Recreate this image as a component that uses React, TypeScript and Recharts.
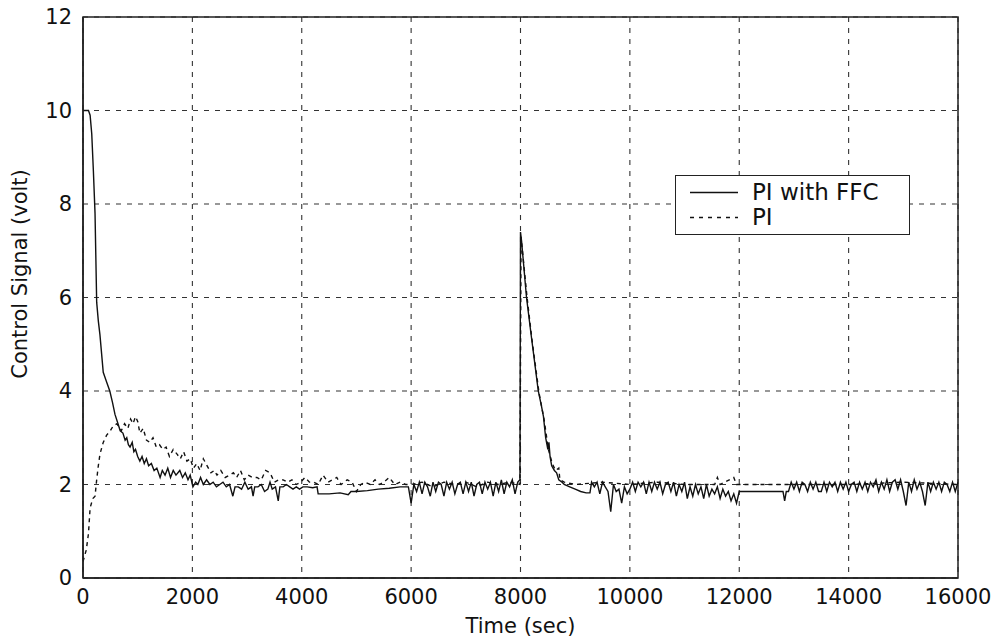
import { LineChart, Line, XAxis, YAxis, CartesianGrid, Legend, ReferenceArea } from "recharts"

// [time (sec), control signal (volt)]
const ffcStartup: [number, number][] = [
  [0, 10], [100, 10], [130, 9.9], [160, 9.5], [190, 8.7], [220, 7.8], [250, 5.9], [280, 5.5],
  [310, 5.2], [340, 4.8], [370, 4.4], [430, 4.2], [490, 4.0], [540, 3.75], [585, 3.5], [640, 3.3],
  [680, 3.15], [730, 3.1], [770, 2.95], [800, 3.0], [830, 2.85], [860, 2.8], [900, 2.9], [930, 2.7],
  [960, 2.75], [1000, 2.6], [1040, 2.5], [1080, 2.6], [1120, 2.45], [1160, 2.55], [1200, 2.4],
  [1250, 2.45], [1300, 2.3], [1350, 2.35], [1410, 2.15], [1450, 2.3], [1500, 2.2], [1550, 2.35],
  [1600, 2.15], [1650, 2.3], [1700, 2.2], [1770, 2.3], [1820, 2.15], [1870, 2.25], [1920, 2.1],
  [1960, 2.2], [2010, 1.95], [2060, 2.05], [2100, 2.0], [2150, 2.15], [2200, 2.0], [2260, 2.1],
  [2320, 2.0], [2380, 2.05], [2440, 1.95], [2500, 2.0], [2560, 2.05], [2620, 1.95], [2680, 2.0],
  [2740, 1.75], [2780, 1.95], [2840, 1.95], [2900, 1.9], [2960, 2.05], [3020, 1.9], [3080, 1.95],
  [3110, 1.75], [3140, 1.95], [3200, 1.95], [3260, 2.0], [3320, 1.85], [3380, 1.9], [3420, 2.05],
  [3460, 1.9], [3520, 1.95], [3570, 1.65], [3600, 1.95], [3660, 1.95], [3720, 2.0], [3780, 1.95],
  [3840, 1.9], [3900, 1.95], [3960, 1.9], [4020, 1.95], [4100, 1.95], [4200, 1.93], [4280, 1.95],
  [4300, 1.8], [4500, 1.8], [4700, 1.82], [4850, 1.78], [4900, 1.85], [5000, 1.85], [5200, 1.87],
  [5400, 1.9], [5600, 1.92], [5800, 1.95], [5950, 1.95],
]

const ffcSteady: [number, number][] = [
  [6000, 1.6], [6050, 2.0], [6100, 1.85], [6150, 2.05], [6200, 1.8], [6250, 2.05], [6300, 1.95],
  [6350, 1.75], [6400, 2.05], [6450, 1.85], [6500, 2.05], [6550, 2.0], [6600, 1.75], [6650, 2.05],
  [6700, 1.9], [6750, 2.05], [6800, 1.8], [6850, 2.0], [6900, 2.05], [6950, 1.8], [7000, 2.05],
  [7050, 1.85], [7100, 2.05], [7150, 1.75], [7200, 2.0], [7250, 2.05], [7300, 1.8], [7350, 2.05],
  [7400, 1.9], [7450, 2.05], [7500, 1.75], [7550, 2.05], [7600, 1.85], [7650, 2.1], [7700, 1.8],
  [7750, 2.05], [7800, 1.95], [7850, 2.1], [7900, 1.8], [7950, 2.05], [7990, 2.1],
]

const ffcDisturbance: [number, number][] = [
  [8000, 7.4], [8020, 7.2], [8110, 6.0], [8200, 5.15], [8260, 4.6], [8325, 4.0], [8380, 3.7],
  [8420, 3.45], [8460, 3.0], [8500, 2.75], [8520, 2.9], [8540, 2.6], [8570, 2.4], [8620, 2.3],
  [8660, 2.25], [8700, 2.1], [8760, 2.05], [8800, 2.0], [8900, 1.95], [9000, 1.9], [9100, 1.85],
  [9200, 1.82], [9270, 1.82], [9300, 2.05], [9350, 1.95], [9400, 2.05], [9450, 1.8], [9500, 2.05],
  [9550, 1.95], [9600, 1.85], [9650, 1.42], [9700, 2.0], [9750, 1.85], [9800, 1.9], [9850, 1.6],
  [9900, 1.95], [9950, 1.8], [10000, 1.9], [10050, 2.05], [10100, 1.85], [10150, 2.05],
  [10200, 1.95], [10250, 2.05], [10300, 1.8], [10350, 2.05], [10400, 1.85], [10450, 2.05],
  [10500, 1.9], [10550, 2.05], [10600, 1.8], [10650, 2.0], [10700, 2.05], [10750, 1.85],
  [10800, 2.05], [10850, 1.75], [10900, 2.0], [10950, 1.85], [11000, 2.05], [11050, 1.7],
  [11100, 1.95], [11150, 1.75], [11200, 2.0], [11250, 1.8], [11300, 1.95], [11350, 1.7],
  [11400, 2.0], [11450, 1.75], [11500, 1.9], [11550, 1.8], [11600, 1.95], [11650, 1.7],
  [11700, 1.9], [11750, 1.75], [11800, 1.85], [11850, 1.65], [11900, 1.8], [11950, 1.6],
]

const ffcLate: [number, number][] = [
  [12000, 1.85], [12800, 1.85], [12830, 1.65], [12860, 1.85], [12900, 1.85], [12950, 2.05],
  [13000, 1.9], [13050, 2.05], [13100, 1.85], [13150, 2.05], [13200, 2.0], [13250, 1.85],
  [13300, 2.05], [13350, 1.9], [13400, 2.05], [13450, 1.85], [13500, 1.85], [13550, 2.05],
  [13600, 1.85], [13650, 2.05], [13700, 1.95], [13750, 2.05], [13800, 1.85], [13850, 2.05],
  [13900, 1.9], [13950, 2.05], [14000, 1.85], [14050, 2.0], [14100, 2.05], [14150, 1.85],
  [14200, 2.05], [14250, 1.9], [14300, 2.05], [14350, 1.85], [14400, 2.05], [14450, 1.95],
  [14500, 2.1], [14550, 1.85], [14600, 2.05], [14650, 1.9], [14700, 2.1], [14750, 1.85],
  [14800, 2.05], [14850, 2.1], [14900, 1.9], [14950, 2.1], [15000, 1.85], [15050, 1.55],
  [15100, 2.05], [15150, 1.85], [15200, 2.1], [15250, 1.9], [15300, 2.05], [15350, 1.85],
  [15400, 1.55], [15450, 2.05], [15500, 1.85], [15550, 2.05], [15600, 1.9], [15650, 2.05],
  [15700, 1.85], [15750, 2.05], [15800, 2.0], [15850, 1.85], [15900, 2.05], [15950, 1.85],
  [16000, 2.05],
]

const piStartup: [number, number][] = [
  [0, 0.35], [60, 0.6], [100, 0.95], [130, 1.5], [180, 1.7], [220, 1.75], [250, 2.1], [280, 2.4],
  [310, 2.65], [370, 2.9], [430, 3.05], [500, 3.15], [550, 3.25], [620, 3.3], [700, 3.15],
  [760, 3.3], [820, 3.2], [870, 3.4], [915, 3.3], [960, 3.45], [1000, 3.35], [1040, 3.1],
  [1100, 3.2], [1160, 2.95], [1220, 2.9], [1280, 3.0], [1340, 2.8], [1400, 2.85], [1460, 2.75],
  [1520, 2.8], [1580, 2.6], [1650, 2.75], [1720, 2.65], [1780, 2.55], [1840, 2.7], [1900, 2.5],
  [1960, 2.55], [2020, 2.35], [2080, 2.45], [2140, 2.3], [2200, 2.55], [2270, 2.4], [2340, 2.25],
  [2400, 2.3], [2450, 2.2], [2520, 2.3], [2600, 2.15], [2680, 2.2], [2750, 2.25], [2810, 2.15],
  [2880, 2.3], [2950, 2.1], [3020, 2.2], [3100, 2.15], [3180, 2.15], [3260, 2.1], [3340, 2.3],
  [3420, 2.25], [3500, 2.05], [3580, 2.1], [3660, 2.1], [3740, 2.05], [3820, 2.1], [3900, 2.0],
  [3980, 2.05], [4060, 2.15], [4140, 2.05], [4220, 2.05], [4300, 2.0], [4390, 2.2], [4480, 2.05],
  [4560, 2.1], [4640, 2.15], [4720, 2.0], [4830, 2.1], [4920, 2.05], [5000, 1.85], [5080, 2.0],
  [5160, 2.05], [5250, 2.0], [5340, 2.1], [5420, 2.0], [5500, 2.05], [5600, 2.15], [5700, 2.0],
  [5800, 2.05], [5900, 2.0],
]

const piLate: [number, number][] = [
  [6000, 2.0], [6200, 2.05], [6400, 1.95], [6600, 2.05], [6800, 2.0], [7000, 2.05], [7200, 1.95],
  [7400, 2.05], [7600, 2.0], [7800, 2.05], [7990, 2.0], [8010, 7.3], [8120, 6.0], [8210, 5.1],
  [8340, 3.95], [8430, 3.4], [8510, 2.75], [8580, 2.45], [8640, 2.3], [8700, 2.35], [8720, 2.1],
  [8800, 2.05], [9000, 2.0], [9500, 2.05], [10000, 2.0], [10500, 2.05], [11000, 2.0],
  [11550, 2.0], [11600, 2.15], [11650, 2.0], [11900, 2.15], [11950, 2.0], [12300, 2.0],
  [13000, 2.0], [14000, 2.0], [15000, 2.05], [16000, 2.0],
]

const xTicks = [0, 2000, 4000, 6000, 8000, 10000, 12000, 14000, 16000]
const yTicks = [0, 2, 4, 6, 8, 10, 12]

const toRows = (pts: [number, number][]) => pts.map(([t, v]) => ({ t, v }))
const ffcData = toRows([...ffcStartup, ...ffcSteady, ...ffcDisturbance, ...ffcLate])
const piData = toRows([...piStartup, ...piLate])

const FONT = "'DejaVu Sans', sans-serif"
const INK = "#111"

const renderLegend = () => (
  <div
    style={{
      width: 235,
      height: 60,
      boxSizing: "border-box",
      border: "1.5px solid #222",
      background: "#fff",
      fontFamily: FONT,
      fontSize: 23,
      color: INK,
      paddingTop: 4,
    }}
  >
    {[
      { name: "PI with FFC", dash: undefined },
      { name: "PI", dash: "4 5" },
    ].map((item) => (
      <div key={item.name} style={{ display: "flex", alignItems: "center", height: 25 }}>
        <svg width={76} height={25} style={{ flex: "none" }}>
          <line x1={14} x2={62} y1={12.5} y2={12.5} stroke={INK} strokeWidth={1.5} strokeDasharray={item.dash} />
        </svg>
        <span style={{ lineHeight: "25px" }}>{item.name}</span>
      </div>
    ))}
  </div>
)

const YLabel = () => (
  <text
    x={20}
    y={274}
    transform="rotate(-90 20 274)"
    textAnchor="middle"
    dominantBaseline="central"
    fontFamily={FONT}
    fontSize={21}
    fill={INK}
  >
    Control Signal (volt)
  </text>
)

export default function App() {
  return (
    <div style={{ position: "absolute", left: 0, top: 0, background: "#fff" }}>
      <LineChart width={1006} height={639} margin={{ top: 17, right: 48, bottom: 0, left: 0 }}>
        <CartesianGrid stroke="#333" strokeDasharray="5 6" strokeWidth={1.1} />
        <XAxis
          type="number"
          dataKey="t"
          domain={[0, 16000]}
          ticks={xTicks}
          height={61}
          tickLine={false}
          tickSize={0}
          tickMargin={11}
          axisLine={{ stroke: "#222", strokeWidth: 1.5 }}
          tick={{ fontSize: 21, fill: INK, fontFamily: FONT }}
          label={{ value: "Time (sec)", position: "insideBottom", offset: 6, fontSize: 21, fill: INK, fontFamily: FONT }}
          allowDataOverflow
        />
        <YAxis
          type="number"
          domain={[0, 12]}
          ticks={yTicks}
          width={83}
          tickLine={false}
          tickSize={0}
          tickMargin={11}
          axisLine={{ stroke: "#222", strokeWidth: 1.5 }}
          tick={{ fontSize: 21, fill: INK, fontFamily: FONT }}
          label={{ content: () => <YLabel /> }}
        />
        <ReferenceArea x1={0} x2={16000} y1={0} y2={12} fill="none" stroke="#222" strokeWidth={1.5} ifOverflow="visible" />
        <Line
          data={piData}
          dataKey="v"
          name="PI"
          type="linear"
          stroke={INK}
          strokeWidth={1.4}
          strokeDasharray="4 4"
          dot={false}
          isAnimationActive={false}
        />
        <Line
          data={ffcData}
          dataKey="v"
          name="PI with FFC"
          type="linear"
          stroke={INK}
          strokeWidth={1.4}
          dot={false}
          isAnimationActive={false}
        />
        <Legend
          layout="vertical"
          align="center"
          verticalAlign="middle"
          content={renderLegend}
          wrapperStyle={{ left: 675, top: 175, width: 235, height: 60 }}
        />
      </LineChart>
    </div>
  )
}
